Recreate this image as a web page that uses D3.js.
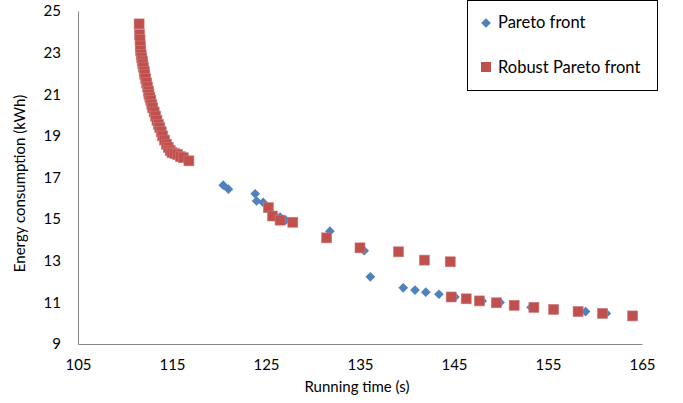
<!DOCTYPE html>
<html><head><meta charset="utf-8">
<script src="https://cdn.jsdelivr.net/npm/d3@7/dist/d3.min.js"></script>
<style>body{margin:0;background:#fff;} svg{display:block;font-family:Lato, "Open Sans", sans-serif;}</style>
</head><body>
<svg id="c" width="683" height="403"></svg>
<script>
const xTicks = [105,115,125,135,145,155,165];
const yTicks = [9,11,13,15,17,19,21,23,25];
const seriesNames = ["Pareto front","Robust Pareto front"];
const paretoFront = [
 [111.5,24.4],[111.6,23.8],[111.65,23.3],[111.85,22.6],[111.95,22.3],[112.2,21.75],[112.4,21.35],[112.55,21.0],[112.75,20.7],[112.95,20.35],[113.25,19.95],[113.55,19.55],[113.85,19.2],[114.2,18.8],[114.6,18.5],[115.0,18.2],[115.6,18.1],[116.2,17.95],[116.8,17.8],
 [120.45,16.63],[121.0,16.44],[123.85,16.22],[124.0,15.87],[124.7,15.8],[126.5,15.1],[127.1,14.95],[131.8,14.42],[135.45,13.48],[136.1,12.23],[139.6,11.7],[140.85,11.59],[142.0,11.49],[143.4,11.39],[145.1,11.26],[148.0,11.07],[149.9,11.0],[153.2,10.76],[159.0,10.56],[161.2,10.47]
];
const robustParetoFront = [
 [111.5,24.38],[111.55,23.87],[111.6,23.62],[111.62,23.32],[111.66,23.1],[111.72,22.9],[111.78,22.75],[111.85,22.6],[111.9,22.45],[111.95,22.3],[112.05,22.1],[112.1,21.95],[112.2,21.75],[112.3,21.55],[112.4,21.35],[112.5,21.15],[112.55,21.0],[112.65,20.85],[112.75,20.7],[112.85,20.5],[112.95,20.35],[113.1,20.15],[113.25,19.95],[113.4,19.75],[113.55,19.55],[113.7,19.4],[113.85,19.2],[114.0,19.0],[114.2,18.8],[114.4,18.6],[114.6,18.45],[114.8,18.3],[115.0,18.2],[115.3,18.15],[115.6,18.1],[115.9,18.0],[116.2,17.95],[116.8,17.8],
 [125.25,15.55],[125.7,15.15],[126.5,14.95],[127.85,14.85],[131.45,14.1],[135.0,13.62],[139.1,13.43],[141.85,13.03],[144.6,12.95],[144.7,11.26],[146.3,11.17],[147.7,11.07],[149.5,10.98],[151.4,10.86],[153.5,10.76],[155.6,10.66],[158.2,10.56],[160.8,10.47],[164.0,10.35]
];
const blue="#4F81BD", red="#C0504D";
const svg=d3.select("#c");
const L=78,T=11,R=642,B=344;
const x=d3.scaleLinear().domain([105,165]).range([L,R]);
const y=d3.scaleLinear().domain([9,25]).range([B,T]);
const xa=svg.append("g").attr("transform",`translate(0,${B})`).call(d3.axisBottom(x).tickValues(xTicks).tickSize(0).tickPadding(15));
const ya=svg.append("g").attr("transform",`translate(${L},0)`).call(d3.axisLeft(y).tickValues(yTicks).tickSize(0).tickPadding(17));
[xa,ya].forEach(a=>{a.select(".domain").attr("stroke","#868686").attr("stroke-width",1);a.selectAll("text").attr("font-size",15).attr("fill","#000").attr("font-family","Lato, sans-serif");});
svg.append("text").attr("x",(L+R)/2-3).attr("y",392).attr("text-anchor","middle").attr("font-size",15).text("Running time (s)");
svg.append("text").attr("transform",`translate(25,${(T+B)/2+6}) rotate(-90)`).attr("text-anchor","middle").attr("font-size",15).text("Energy consumption (kWh)");
const dia=d3.symbol().type(d3.symbolDiamond2).size(60);
svg.append("g").selectAll("path").data(paretoFront).join("path").attr("d",dia).attr("transform",d=>`translate(${x(d[0])},${y(d[1])})`).attr("fill",blue);
svg.append("g").selectAll("rect").data(robustParetoFront).join("rect").attr("x",d=>x(d[0])-5).attr("y",d=>y(d[1])-5).attr("width",10).attr("height",10).attr("fill",red).attr("stroke","#c97a78").attr("stroke-width",0.6);
const lg=svg.append("g");
lg.append("rect").attr("x",467.5).attr("y",0.5).attr("width",190).attr("height",90).attr("fill","#fff").attr("stroke","#000").attr("stroke-width",1);
lg.append("path").attr("d",dia).attr("transform","translate(486,23)").attr("fill",blue);
lg.append("rect").attr("x",481).attr("y",62).attr("width",10).attr("height",10).attr("fill",red);
lg.append("text").attr("x",498).attr("y",28).attr("font-size",16.5).text(seriesNames[0]);
lg.append("text").attr("x",498).attr("y",73).attr("font-size",16.5).text(seriesNames[1]);
</script></body></html>
